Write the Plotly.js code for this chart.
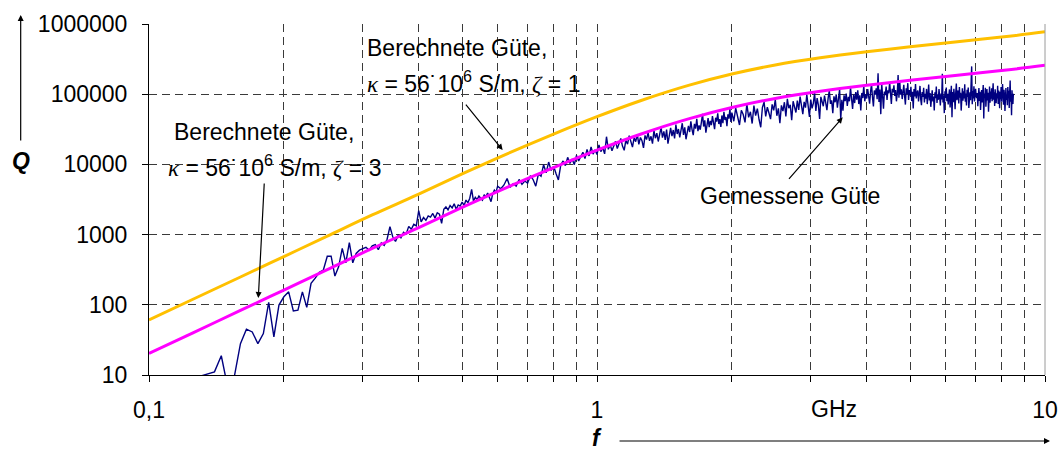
<!DOCTYPE html>
<html>
<head>
<meta charset="utf-8">
<script src="https://cdn.plot.ly/plotly-3.0.1.min.js"></script>
<style>
  html, body { margin: 0; padding: 0; background: #fff; }
  #chart { width: 1061px; height: 450px; }
</style>
</head>
<body>
<div id="chart"></div>
<script>
// Calculated quality factor, kappa = 56e6 S/m (frequency in GHz)
const calcFreq = [0.1, 0.125, 0.16, 0.2, 0.25, 0.315, 0.4, 0.5, 0.63, 0.8, 1.0, 1.25, 1.6, 2.0, 2.5, 3.15, 4.0, 5.0, 6.3, 8.0, 10];
const qZeta3 = [20.3, 39.6, 83.1, 162, 317, 635, 1260, 2440, 4710, 9000, 15930, 26900, 44500, 64600, 87000, 110000, 134000, 157600, 184600, 217000, 258000];
const qZeta1 = [60.9, 119, 249, 486, 951, 1905, 3780, 7320, 14130, 27000, 47800, 80700, 133500, 193800, 261000, 330000, 402000, 472800, 553800, 651000, 774000];

// Measured quality factor, three frequency sweeps (start / step in GHz)
const sweepLow = { start: 0.130, step: 0.005 };
const qLow = [
  9.6, 10.4, 11.1, 18.8, 6.5, 9.4, 28, 45, 41, 28,
  39, 108, 35, 99, 130, 153, 82, 84, 153, 92,
  202, 240, 290, 313, 492, 492, 257, 347, 637, 397,
  767, 397, 540, 600, 637, 660, 600, 690,
  720, 610, 760, 700, 860, 1300, 930, 800, 980, 900,
  1080, 1020, 1310, 1190, 1400, 1330, 2200, 1520, 1750, 1600,
  1850, 1780, 2000, 1720, 2050, 1950, 1450, 2300, 2480, 2250,
  2600, 2400, 2750, 2300, 2650, 2550, 2900, 2600, 3100, 2850,
  3300, 4400, 3000, 3400, 3150, 3550, 3300, 3100, 3700, 3450,
  3900, 3350, 2950, 3800, 4300, 4000
];
const sweepMid = { start: 0.60, step: 0.01 };
const qMid = [
  4900, 4500, 5100, 6300, 4700, 5300, 4900, 6100, 5200, 5800,
  5400, 6900, 6100, 4900, 7300, 6800, 9900, 7600, 10800, 8200,
  9400, 7400, 6000, 9800, 11200, 9600, 12600, 10300, 11900, 9900,
  13400, 11200, 12800, 14900, 12100, 16300, 13200, 17800, 14000, 16200,
  13800, 18900, 15200, 17300, 14100, 24800, 16400, 19200, 15600, 18100,
  21300, 16800, 19900, 23400, 18200, 15900, 22100, 19400, 25600, 20300,
  17600, 23900, 21100, 26800, 19300, 24200, 21800, 17200, 25900, 22600,
  28400, 21700, 25100, 19800, 30200, 23600, 27900, 21200, 26300, 33800,
  24100, 29600, 22300, 31400, 19700, 27800, 33100, 25200, 30900, 23400,
  36800, 27100, 31900, 24300, 29200, 38600, 26400, 33700, 22800, 30600,
  35400, 28900, 41200, 31300, 26100, 37800, 32400, 44600, 29700, 35900,
  31200, 39800, 52700, 34600, 42300, 28400, 38100, 45600, 33900, 41700,
  36200, 48900, 39400, 31800, 46200, 40700, 53400, 37600, 44100, 34300,
  49800, 38700, 56200, 42900, 47300, 35100, 51600, 44800, 61900, 40200
];
const sweepHigh = { start: 2.00, step: 0.02 };
const qHigh = [
  54800, 41200, 63500, 47100, 36400, 58900, 51300, 39700, 72600, 46800,
  56100, 38200, 68900, 49700, 62300, 43600, 33800, 64800, 77100, 48400,
  65200, 53900, 44100, 71800, 58700, 83600, 49300, 62900, 38700, 69400,
  57300, 76900, 48200, 85700, 63100, 70800, 42600, 79400, 66200, 54800,
  81200, 59600, 92300, 68700, 52100, 77900, 64400, 98600, 71300, 47500,
  83900, 62700, 74100, 103500, 57800, 88200, 69900, 44300, 91700, 76400,
  67300, 95800, 78200, 59100, 87400, 112600, 72900, 81700, 53600, 93100,
  76800, 99200, 64500, 88900, 118700, 44000, 83400, 58200, 96300, 79900,
  102400, 68100, 91500, 79300, 124800, 86200, 61700, 98900, 74800, 107300,
  83600, 113200, 72400, 96700, 58900, 104100, 88300, 131500, 79200, 99800,
  86900, 118300, 94100, 73500, 108700, 139200, 91200, 66800, 112900, 98400,
  121600, 84700, 198000, 77300, 116200, 52000, 142700, 89100, 61900, 109400,
  97200, 128400, 82600, 113700, 103100, 148300, 91600, 72800, 119800, 106500,
  133900, 94800, 114600, 79200, 102700, 188000, 88900, 152100, 98700, 117200,
  85300, 109800, 136400, 93500, 71200, 121700, 101400, 143600, 82900, 114300,
  96100, 127900, 79800, 108300, 62400, 118500, 92700, 139800, 87100, 104900,
  112800, 78600, 95400, 131200, 84300, 69700, 107600, 91800, 123500, 76200,
  101700, 86400, 118900, 72300, 97600, 137400, 81500, 104200, 66100, 94300,
  113900, 79100, 92800, 58700, 106400, 87700, 128600, 74900, 99300, 83200,
  118200, 91400, 68900, 102600, 84100, 196000, 76300, 96900, 53800, 109700,
  88600, 124700, 79700, 101300, 71400, 93900, 116900, 64800, 98200, 131600,
  47000, 107100, 76800, 119400, 92300, 61200, 103800, 142300, 82400, 97500,
  113100, 73600, 126200, 89300, 104700, 58400, 96800, 121300, 80600, 109900,
  87200, 138100, 77900, 101900, 69300, 115700, 91100, 124100, 63700, 99600,
  106300, 82100, 147200, 249000, 72100, 111400, 86800, 129500, 78700, 97900,
  119200, 94600, 88200, 103600, 67600, 95100, 122800, 80300, 108600, 59800,
  84400, 114800, 76100, 97300, 135600, 45000, 102200, 89700, 123700, 66400,
  93800, 118600, 81200, 104400, 56300, 97100, 128900, 75400, 109100, 86100,
  121900, 79500, 99800, 142600, 83700, 106900, 68200, 117300, 92400, 74700,
  103100, 87300, 131400, 72600, 112700, 95700, 62900, 108200, 84800, 126700,
  78400, 101600, 139700, 88400, 71100, 115300, 96400, 57600, 107300, 122600,
  82700, 98600, 69800, 126100, 91700, 112100, 63400, 104800, 156300, 78100,
  96300, 50000, 113900, 86900, 72300, 101200
];

// Axis ticks
const xTickVals = [0.1, 1, 10];
const xTickText = ['0,1', '1', '10'];
const xMinorVals = [0.2, 0.3, 0.4, 0.5, 0.6, 0.7, 0.8, 0.9, 2, 3, 4, 5, 6, 7, 8, 9];
const yTickVals = [10, 100, 1000, 10000, 100000, 1000000];
const yTickText = ['10', '100', '1000', '10000', '100000', '1000000'];

function sweepFreqs(sweep, count) {
  const out = [];
  for (let i = 0; i < count; i++) out.push(+(sweep.start + i * sweep.step).toFixed(3));
  return out;
}

const measFreq = [].concat(
  sweepFreqs(sweepLow, qLow.length),
  sweepFreqs(sweepMid, qMid.length),
  sweepFreqs(sweepHigh, qHigh.length)
);
const measQ = [].concat(qLow, qMid, qHigh);

const FONT = 'Liberation Sans, Arial, sans-serif';
const GRID = '#3a3a3a';
const DASH = '8px,5px';

const traces = [
  { x: measFreq, y: measQ, type: 'scatter', mode: 'lines',
    line: { color: '#000080', width: 1.4 }, hoverinfo: 'skip' },
  { x: calcFreq, y: qZeta1, type: 'scatter', mode: 'lines',
    line: { color: '#FFC000', width: 3, shape: 'spline', smoothing: 1 }, hoverinfo: 'skip' },
  { x: calcFreq, y: qZeta3, type: 'scatter', mode: 'lines',
    line: { color: '#FF00FF', width: 3, shape: 'spline', smoothing: 1 }, hoverinfo: 'skip' }
];

const greek = s => '<span style="font-family:Liberation Serif"><i>' + s + '</i></span>';
const kappaLine = z => greek('κ') + ' = 56˙10<sup>6</sup> S/m, ' + greek('ζ') + ' = ' + z;

function label(text, x, y) {
  return { text: text, xref: 'paper', yref: 'paper', x: x, y: y,
    xanchor: 'left', yanchor: 'middle', showarrow: false,
    font: { family: FONT, size: 23, color: '#000' } };
}
function pointer(x, y, ax, ay) {
  return { text: '', xref: 'paper', yref: 'paper', x: x, y: y, ax: ax, ay: ay,
    showarrow: true, arrowhead: 2, arrowsize: 1, arrowwidth: 1.2, arrowcolor: '#000' };
}

const annotations = [
  label('Berechnete Güte,', 0.2411, 0.9316),
  label(kappaLine('1'), 0.2411, 0.8348),
  label('Berechnete Güte,', 0.0257, 0.6923),
  label(kappaLine('3'), 0.019, 0.5954),
  label('Gemessene Güte', 0.6127, 0.51),
  pointer(0.3947, 0.641, -38, -47),
  pointer(0.122, 0.2194, 6, -116),
  pointer(0.7742, 0.734, -55, 63),
  // unit label on the frequency axis
  { text: 'GHz', xref: 'paper', yref: 'paper', x: 0.765, y: -0.098, xanchor: 'center', yanchor: 'middle',
    showarrow: false, font: { family: FONT, size: 23, color: '#000' } },
  // axis symbols with direction arrows
  { text: '<b><i>Q</i></b>', xref: 'paper', yref: 'paper', x: -0.1432, y: 0.61, xanchor: 'center', yanchor: 'middle',
    showarrow: false, font: { family: FONT, size: 23, color: '#000' } },
  { text: '', xref: 'paper', yref: 'paper', x: -0.1432, y: 1.0256, ax: 0, ay: 127,
    showarrow: true, arrowhead: 2, arrowsize: 1, arrowwidth: 1.2, arrowcolor: '#000' },
  { text: '<b><i>f</i></b>', xref: 'paper', yref: 'paper', x: 0.5, y: -0.1795, xanchor: 'center', yanchor: 'middle',
    height: 20, borderpad: 0, showarrow: false, font: { family: FONT, size: 23, color: '#000' } },
  { text: '', xref: 'paper', yref: 'paper', x: 1.0056, y: -0.188, ax: -432, ay: 0,
    showarrow: true, arrowhead: 2, arrowsize: 1, arrowwidth: 1.2, arrowcolor: '#000' }
];

const layout = {
  width: 1061, height: 450,
  margin: { l: 149, r: 16, t: 24, b: 75, pad: 0 },
  paper_bgcolor: '#fff', plot_bgcolor: '#fff',
  showlegend: false,
  font: { family: FONT, size: 23, color: '#000' },
  xaxis: {
    type: 'log', range: [-1, 1], autorange: false,
    tickmode: 'array', tickvals: xTickVals, ticktext: xTickText,
    ticks: 'outside', ticklen: 6, tickwidth: 1, tickcolor: '#000',
    showline: true, linecolor: '#000', linewidth: 1,
    showgrid: true, gridcolor: GRID, gridwidth: 1, griddash: DASH,
    minor: { tickmode: 'array', tickvals: xMinorVals, ticks: 'outside', ticklen: 6, tickcolor: '#000',
             showgrid: true, gridcolor: GRID, gridwidth: 1, griddash: DASH },
    tickfont: { family: FONT, size: 23, color: '#000' },
    ticklabelstandoff: 8,
    zeroline: false
  },
  yaxis: {
    type: 'log', range: [1, 6], autorange: false,
    tickmode: 'array', tickvals: yTickVals, ticktext: yTickText,
    ticks: 'outside', ticklen: 6, tickwidth: 1, tickcolor: '#000',
    showline: true, linecolor: '#000', linewidth: 1,
    showgrid: true, gridcolor: GRID, gridwidth: 1, griddash: DASH,
    tickfont: { family: FONT, size: 23, color: '#000' },
    ticklabelstandoff: 10,
    zeroline: false
  },
  shapes: [
    { type: 'line', xref: 'paper', yref: 'paper', x0: 1, x1: 1, y0: 0, y1: 1,
      line: { color: '#9a9a9a', width: 1 } }
  ],
  annotations: annotations
};

Plotly.newPlot('chart', traces, layout, { staticPlot: true, displayModeBar: false });
</script>
</body>
</html>
